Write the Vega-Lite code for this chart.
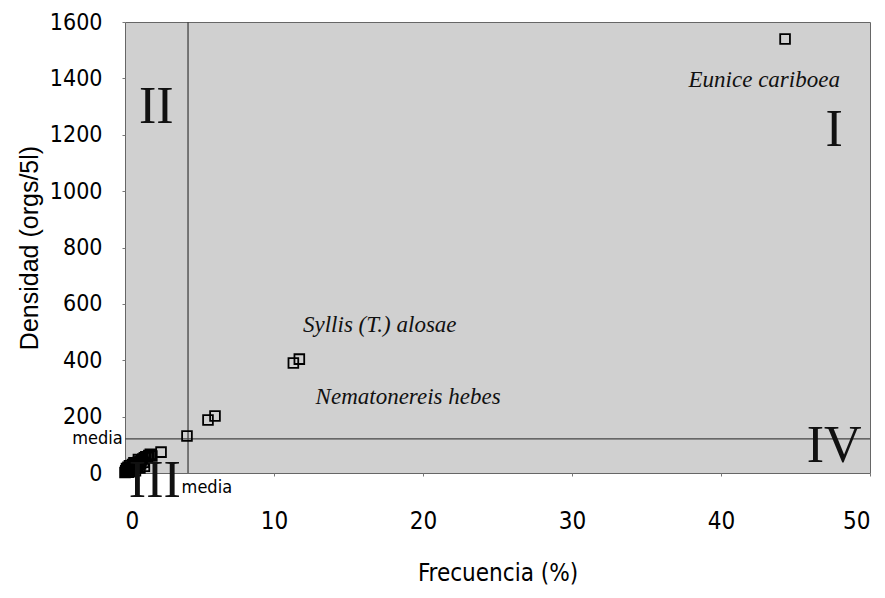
{
  "$schema": "https://vega.github.io/schema/vega-lite/v6.json",
  "autosize": {"type": "none"},
  "width": 745,
  "height": 451,
  "padding": {"left": 125, "top": 22, "right": 15, "bottom": 125},
  "background": "white",
  "config": {
    "view": {"fill": "#d0d0d0", "stroke": "#666666", "strokeWidth": 1},
    "axis": {"grid": false, "domain": false, "tickColor": "#777", "tickSize": 3, "labelFont": "DejaVu Sans Condensed, Liberation Sans", "labelFontSize": 23, "labelColor": "#000", "titleColor": "#000", "format": "d"}
  },
  "datasets": {
    "points": [
      {"frec": 44.3, "dens": 1540},
      {"frec": 11.3, "dens": 390},
      {"frec": 11.7, "dens": 404},
      {"frec": 5.57, "dens": 188},
      {"frec": 6.04, "dens": 202},
      {"frec": 4.16, "dens": 131},
      {"frec": 2.42, "dens": 74},
      {"frec": 0.0, "dens": 2},
      {"frec": 0.05, "dens": 8},
      {"frec": 0.1, "dens": 4},
      {"frec": 0.15, "dens": 12},
      {"frec": 0.2, "dens": 8},
      {"frec": 0.25, "dens": 3},
      {"frec": 0.3, "dens": 15},
      {"frec": 0.35, "dens": 6},
      {"frec": 0.4, "dens": 18},
      {"frec": 0.45, "dens": 10},
      {"frec": 0.5, "dens": 22},
      {"frec": 0.55, "dens": 13},
      {"frec": 0.6, "dens": 26},
      {"frec": 0.65, "dens": 17},
      {"frec": 0.7, "dens": 30},
      {"frec": 0.75, "dens": 21},
      {"frec": 0.8, "dens": 34},
      {"frec": 0.85, "dens": 25},
      {"frec": 0.9, "dens": 38},
      {"frec": 0.95, "dens": 29},
      {"frec": 1.0, "dens": 42},
      {"frec": 1.05, "dens": 33},
      {"frec": 1.1, "dens": 46},
      {"frec": 1.2, "dens": 50},
      {"frec": 1.25, "dens": 38},
      {"frec": 1.3, "dens": 54},
      {"frec": 1.4, "dens": 58},
      {"frec": 1.5, "dens": 55},
      {"frec": 1.6, "dens": 62},
      {"frec": 1.7, "dens": 66},
      {"frec": 1.8, "dens": 60},
      {"frec": 0.2, "dens": 20},
      {"frec": 0.5, "dens": 30},
      {"frec": 0.7, "dens": 8},
      {"frec": 1.0, "dens": 18},
      {"frec": 0.3, "dens": 26},
      {"frec": 0.6, "dens": 36},
      {"frec": 0.9, "dens": 48},
      {"frec": 1.3, "dens": 24},
      {"frec": 0.1, "dens": 16}
    ],
    "meanx": [{"mx": 4.23}],
    "meany": [{"my": 121}],
    "quadrants": [
      {"frec": 2.1, "dens": 1300, "q": "II"},
      {"frec": 47.6, "dens": 1217, "q": "I"},
      {"frec": 2.0, "dens": -30, "q": "III"},
      {"frec": 47.6, "dens": 95, "q": "IV"}
    ],
    "species": [
      {"frec": 42.9, "dens": 1394, "name": "Eunice cariboea"},
      {"frec": 17.1, "dens": 525, "name": "Syllis (T.) alosae"},
      {"frec": 19.0, "dens": 270, "name": "Nematonereis hebes"}
    ],
    "mediaY": [{"frec": -0.15, "dens": 121, "t": "media"}],
    "mediaX": [{"frec": 3.8, "dens": -53, "t": "media"}]
  },
  "layer": [
    {
      "data": {"name": "meanx"},
      "mark": {"type": "rule", "color": "#444", "strokeWidth": 1.3},
      "encoding": {"x": {"field": "mx", "type": "quantitative", "scale": {"domain": [0, 50], "nice": false}}}
    },
    {
      "data": {"name": "meany"},
      "mark": {"type": "rule", "color": "#444", "strokeWidth": 1.3},
      "encoding": {"y": {"field": "my", "type": "quantitative", "scale": {"domain": [0, 1600], "nice": false}}}
    },
    {
      "data": {"name": "points"},
      "mark": {"type": "point", "shape": "square", "filled": false, "stroke": "#000", "strokeWidth": 1.8, "size": 95, "opacity": 1},
      "encoding": {
        "x": {"field": "frec", "type": "quantitative", "scale": {"domain": [0, 50], "nice": false}, "axis": {"values": [0, 10, 20, 30, 40, 50], "title": "Frecuencia (%)", "titleFont": "DejaVu Sans Condensed, Liberation Sans", "titleFontSize": 24, "titleFontWeight": "normal", "titlePadding": 28, "labelPadding": 33, "labelFontSize": 24}},
        "y": {"field": "dens", "type": "quantitative", "scale": {"domain": [0, 1600], "nice": false}, "axis": {"values": [0, 200, 400, 600, 800, 1000, 1200, 1400, 1600], "title": "Densidad (orgs/5l)", "titleFont": "Liberation Sans", "titleFontSize": 25, "titleFontWeight": "normal", "titlePadding": 7, "labelPadding": 20}}
      }
    },
    {
      "data": {"name": "quadrants"},
      "mark": {"type": "text", "font": "Liberation Serif", "fontSize": 52, "color": "#111", "align": "center", "baseline": "middle"},
      "encoding": {
        "x": {"field": "frec", "type": "quantitative"},
        "y": {"field": "dens", "type": "quantitative"},
        "text": {"field": "q"}
      }
    },
    {
      "data": {"name": "species"},
      "mark": {"type": "text", "font": "Liberation Serif", "fontStyle": "italic", "fontSize": 23, "color": "#111", "align": "center", "baseline": "middle"},
      "encoding": {
        "x": {"field": "frec", "type": "quantitative"},
        "y": {"field": "dens", "type": "quantitative"},
        "text": {"field": "name"}
      }
    },
    {
      "data": {"name": "mediaY"},
      "mark": {"type": "text", "font": "DejaVu Sans Condensed, Liberation Sans", "fontSize": 18, "color": "#000", "align": "right", "baseline": "middle"},
      "encoding": {
        "x": {"field": "frec", "type": "quantitative"},
        "y": {"field": "dens", "type": "quantitative"},
        "text": {"field": "t"}
      }
    },
    {
      "data": {"name": "mediaX"},
      "mark": {"type": "text", "font": "DejaVu Sans Condensed, Liberation Sans", "fontSize": 18, "color": "#000", "align": "left", "baseline": "middle"},
      "encoding": {
        "x": {"field": "frec", "type": "quantitative"},
        "y": {"field": "dens", "type": "quantitative"},
        "text": {"field": "t"}
      }
    }
  ]
}
